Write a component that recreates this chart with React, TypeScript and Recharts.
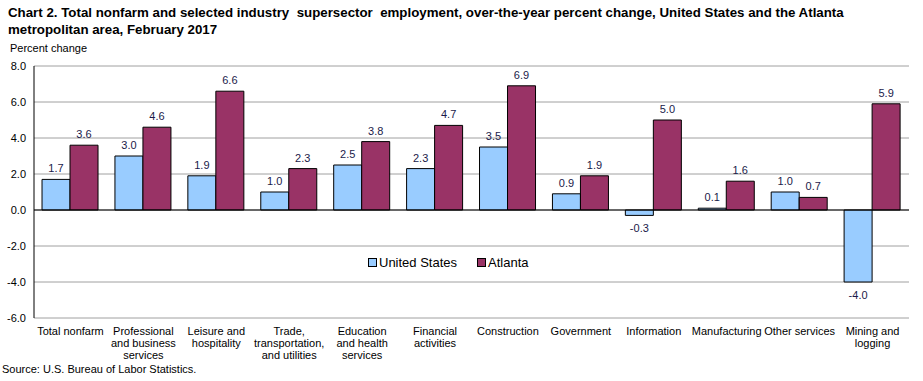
import { BarChart, Bar, XAxis, YAxis, CartesianGrid, ReferenceLine, LabelList } from 'recharts';

const categories = [
  'Total nonfarm',
  'Professional|and business|services',
  'Leisure and|hospitality',
  'Trade,|transportation,|and utilities',
  'Education|and health|services',
  'Financial|activities',
  'Construction',
  'Government',
  'Information',
  'Manufacturing',
  'Other services',
  'Mining and|logging',
];
const unitedStates = [1.7, 3.0, 1.9, 1.0, 2.5, 2.3, 3.5, 0.9, -0.3, 0.1, 1.0, -4.0];
const atlanta = [3.6, 4.6, 6.6, 2.3, 3.8, 4.7, 6.9, 1.9, 5.0, 1.6, 0.7, 5.9];
const yTicks = [-6, -4, -2, 0, 2, 4, 6, 8];

const data = categories.map((name, i) => ({ name, us: unitedStates[i], atl: atlanta[i] }));

const FONT = 'Arial, "Liberation Sans", sans-serif';
const US_COLOR = '#99CCFF';
const ATL_COLOR = '#993366';

const CategoryTick = (props: any) => {
  const { x, y, payload } = props;
  const lines = String(payload.value).split('|');
  return (
    <text x={x} y={y} textAnchor="middle" fontSize={11} fontFamily={FONT} fill="#000">
      {lines.map((l, i) => (
        <tspan key={i} x={x} dy={i === 0 ? 9 : 12}>
          {l}
        </tspan>
      ))}
    </text>
  );
};

const ValueLabel = (props: any) => {
  const { x, y, width, height, value } = props;
  const top = Math.min(y, y + height);
  const bottom = Math.max(y, y + height);
  const ty = value < 0 ? bottom + 17 : top - 7;
  return (
    <text x={x + width / 2} y={ty} textAnchor="middle" fontSize={11} fontFamily={FONT} fill="#1a1a4a">
      {Number(value).toFixed(1)}
    </text>
  );
};

export default function App() {
  return (
    <div style={{ position: 'absolute', left: 0, top: 0, width: 923, height: 381, background: '#fff', fontFamily: FONT }}>
      <div style={{ position: 'absolute', left: 8, top: 4, fontSize: 13.3, fontWeight: 'bold', lineHeight: '17px', whiteSpace: 'pre' }}>
        {'Chart 2. Total nonfarm and selected industry  supersector  employment, over-the-year percent change, United States and the Atlanta\nmetropolitan area, February 2017'}
      </div>
      <div style={{ position: 'absolute', left: 10, top: 42, fontSize: 11 }}>Percent change</div>
      <BarChart
        width={923}
        height={381}
        data={data}
        margin={{ top: 66, right: 14, bottom: 0, left: 0 }}
        barGap={0}
        barCategoryGap="11%"
      >
        <CartesianGrid vertical={false} stroke="#A0A0A0" />
        <XAxis dataKey="name" axisLine={false} tickLine={false} interval={0} tick={<CategoryTick />} height={63} />
        <YAxis
          domain={[-6, 8]}
          ticks={yTicks}
          width={34}
          tickLine={false}
          axisLine={{ stroke: '#000' }}
          tickFormatter={(v: number) => v.toFixed(1)}
          tick={{ fill: '#000', fontSize: 11, fontFamily: FONT }}
        />
        <YAxis yAxisId="right" orientation="right" width={0} tick={false} tickLine={false} axisLine={{ stroke: '#A0A0A0' }} />
        <ReferenceLine y={0} stroke="#000" />
        <Bar dataKey="us" fill={US_COLOR} stroke="#000" strokeWidth={1} isAnimationActive={false}>
          <LabelList dataKey="us" content={<ValueLabel />} />
        </Bar>
        <Bar dataKey="atl" fill={ATL_COLOR} stroke="#000" strokeWidth={1} isAnimationActive={false}>
          <LabelList dataKey="atl" content={<ValueLabel />} />
        </Bar>
      </BarChart>
      <div style={{ position: 'absolute', left: 368, top: 255, fontSize: 13, display: 'flex', alignItems: 'center' }}>
        <span style={{ width: 7, height: 7, background: US_COLOR, border: '1px solid #000', marginRight: 2 }} />
        <span>United States</span>
        <span style={{ width: 7, height: 7, background: ATL_COLOR, border: '1px solid #000', marginLeft: 20, marginRight: 2 }} />
        <span>Atlanta</span>
      </div>
      <div style={{ position: 'absolute', left: 2, top: 363, fontSize: 11 }}>Source: U.S. Bureau of Labor Statistics.</div>
    </div>
  );
}
